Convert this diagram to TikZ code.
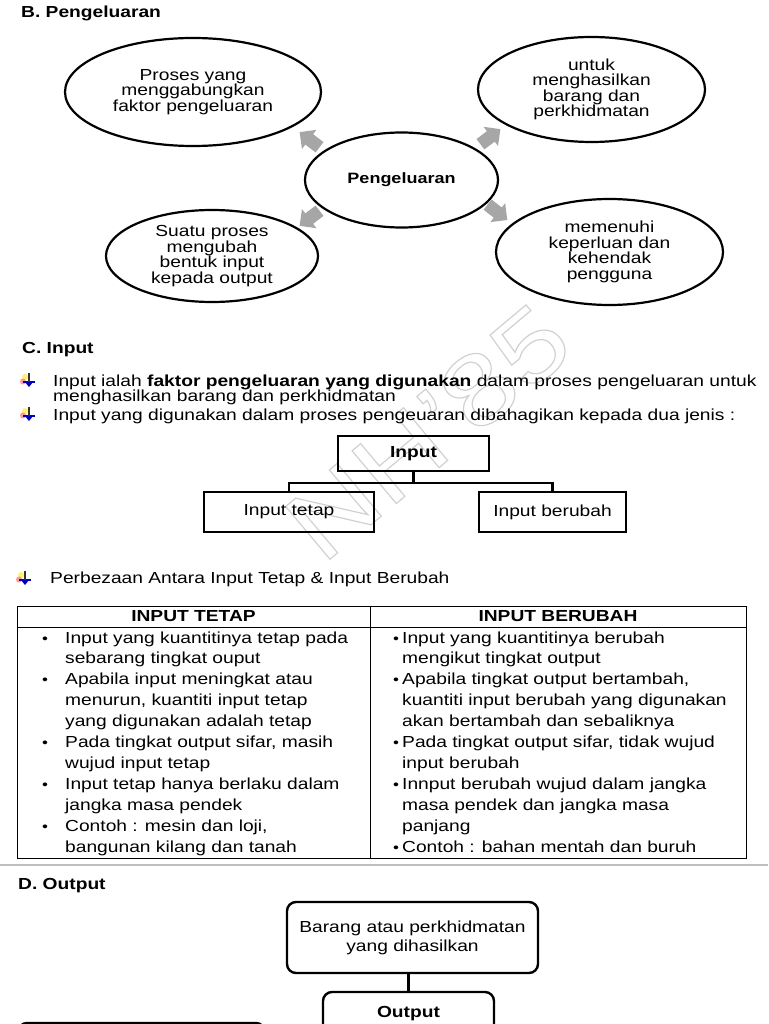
\documentclass[tikz,border=0pt]{standalone}
\usepackage{fontspec}
\setmainfont{Liberation Sans}[FakeStretch=1.2]
\usetikzlibrary{shapes.geometric}
\definecolor{arrowgray}{HTML}{A6A6A6}
\newcommand\blockarr[3]{\fill[arrowgray, shift={(#1,#2)}, rotate=#3] (-12,-6.5) -- (1,-6.5) -- (1,-12) -- (13,0) -- (1,12) -- (1,6.5) -- (-12,6.5) -- cycle;}
\newcommand\wingicon[2]{%
  \begin{scope}[shift={(#1,#2)}]
    \fill[yellow!90!orange, opacity=0.55] (-3,-3) circle (3);
    \fill[red!80, opacity=0.5] (-5,1.5) circle (3);
    \fill[blue!75!black] (-5,0.5) rectangle (7,3);
    \draw[black!80, line width=1.4pt] (1,-7) -- (1,4);
    \fill[blue!75!black] (-3,2) -- (5,2) -- (1,7) -- cycle;
  \end{scope}}
\begin{document}
\begin{tikzpicture}[x=1pt,y=-1pt,
  every node/.style={inner sep=0pt},
  txt/.style={anchor=base west, font=\fontsize{16}{19}\selectfont},
  hd/.style={anchor=base west, font=\fontsize{16}{19}\selectfont\bfseries},
  ell/.style={ellipse, draw, line width=2.2pt, align=center, font=\fontsize{16}{15.5}\selectfont},
  tbox/.style={draw, line width=2.4pt, font=\fontsize{16}{19}\selectfont},
  rbox/.style={draw, line width=2.4pt, rounded corners=9pt, align=center, font=\fontsize{16}{19}\selectfont},
  cell/.style={draw, line width=1pt, font=\fontsize{16}{19}\selectfont\bfseries},
  bul/.style={anchor=base, font=\fontsize{14}{19}\selectfont},
  link/.style={line width=2.4pt},
]
\useasboundingbox (0,0) rectangle (768,1024);
\clip (0,0) rectangle (768,1024);
\fill[white] (0,0) rectangle (768,1024);

% watermark (faint outline)
\node[font=\fontsize{100}{100}\selectfont, text=black!18, rotate=40] (wm) at (428,432) {\special{pdf:literal direct 1 Tr 1.2 w}NH'85\special{pdf:literal direct 0 Tr}};

% ---- B. Pengeluaran
\node[hd] (hB) at (21,18) {B. Pengeluaran};
\node[ell, minimum width=256pt, minimum height=108pt] (e1) at (193,92) {Proses yang\\menggabungkan\\faktor pengeluaran};
\node[ell, minimum width=193pt, minimum height=95pt, font=\fontsize{15}{18}\selectfont\bfseries] (e0) at (401.5,180) {Pengeluaran};
\node[ell, minimum width=227pt, minimum height=105pt] (e2) at (591.5,89.5) {untuk\\menghasilkan\\barang dan\\perkhidmatan};
\node[ell, minimum width=227pt, minimum height=106pt] (e3) at (609.5,252) {memenuhi\\keperluan dan\\kehendak\\pengguna};
\node[ell, minimum width=212pt, minimum height=92pt] (e4) at (212,256) {Suatu proses\\mengubah\\bentuk input\\kepada output};
\blockarr{310}{140}{143}
\blockarr{310}{218}{217}
\blockarr{490}{137}{37}
\blockarr{497}{212}{-38}

% ---- C. Input
\node[hd] (hC) at (22,353) {C. Input};
\wingicon{28}{380}
\wingicon{28}{414}
\wingicon{24}{578}
\node[txt] (p1) at (53,386) {Input ialah \textbf{faktor pengeluaran yang digunakan} dalam proses pengeluaran untuk};
\node[txt] (p2) at (53,401.5) {menghasilkan barang dan perkhidmatan};
\node[txt] (p3) at (53,420) {Input yang digunakan dalam proses pengeuaran dibahagikan kepada dua jenis :};

\node[tbox, minimum width=151pt, minimum height=35pt, font=\fontsize{16}{19}\selectfont\bfseries] (inp) at (413.5,453.5) {Input};
\node[tbox, minimum width=170pt, minimum height=40pt] (tetap) at (289,512) {Input tetap};
\node[tbox, minimum width=147pt, minimum height=40pt] (berubah) at (552.5,512) {Input berubah};
\draw[link] (inp.south) -- ([yshift=-11pt]inp.south);
\draw[link] (tetap.north) |- ([yshift=-11pt]inp.south) -| (berubah.north);

\node[txt] (p4) at (50,583) {Perbezaan Antara Input Tetap \& Input Berubah};

% table
\node[cell, minimum width=353pt, minimum height=21pt] (h1) at (193.5,616.5) {INPUT TETAP};
\node[cell, minimum width=376pt, minimum height=21pt] (h2) at (558,616.5) {INPUT BERUBAH};
\node[cell, minimum width=353pt, minimum height=231pt] (c1) at (193.5,742.5) {};
\node[cell, minimum width=376pt, minimum height=231pt] (c2) at (558,742.5) {};

\node[bul] (ba1) at (45,643) {\textbullet};
\node[bul] (ba2) at (45,684.8) {\textbullet};
\node[bul] (ba3) at (45,747.5) {\textbullet};
\node[bul] (ba4) at (45,789.3) {\textbullet};
\node[bul] (ba5) at (45,831.1) {\textbullet};
\node[txt] (a1) at (65,643) {Input yang kuantitinya tetap pada};
\node[txt] (a2) at (65,663.9) {sebarang tingkat ouput};
\node[txt] (a3) at (65,684.8) {Apabila input meningkat atau};
\node[txt] (a4) at (65,705.7) {menurun, kuantiti input tetap};
\node[txt] (a5) at (65,726.6) {yang digunakan adalah tetap};
\node[txt] (a6) at (65,747.5) {Pada tingkat output sifar, masih};
\node[txt] (a7) at (65,768.4) {wujud input tetap};
\node[txt] (a8) at (65,789.3) {Input tetap hanya berlaku dalam};
\node[txt] (a9) at (65,810.2) {jangka masa pendek};
\node[txt] (a10) at (65,831.1) {Contoh : mesin dan loji,};
\node[txt] (a11) at (65,852) {bangunan kilang dan tanah};

\node[bul] (bb1) at (396,643) {\textbullet};
\node[bul] (bb2) at (396,684.8) {\textbullet};
\node[bul] (bb3) at (396,747.5) {\textbullet};
\node[bul] (bb4) at (396,789.3) {\textbullet};
\node[bul] (bb5) at (396,852) {\textbullet};
\node[txt] (b1) at (402,643) {Input yang kuantitinya berubah};
\node[txt] (b2) at (402,663.9) {mengikut tingkat output};
\node[txt] (b3) at (402,684.8) {Apabila tingkat output bertambah,};
\node[txt] (b4) at (402,705.7) {kuantiti input berubah yang digunakan};
\node[txt] (b5) at (402,726.6) {akan bertambah dan sebaliknya};
\node[txt] (b6) at (402,747.5) {Pada tingkat output sifar, tidak wujud};
\node[txt] (b7) at (402,768.4) {input berubah};
\node[txt] (b8) at (402,789.3) {Innput berubah wujud dalam jangka};
\node[txt] (b9) at (402,810.2) {masa pendek dan jangka masa};
\node[txt] (b10) at (402,831.1) {panjang};
\node[txt] (b11) at (402,852) {Contoh : bahan mentah dan buruh};

\draw[black!25, line width=1.2pt] (0,865) -- (768,865);

% ---- D. Output
\node[hd] (hD) at (18,889) {D. Output};
\node[rbox, minimum width=251pt, minimum height=71pt] (barang) at (412.5,937.5) {Barang atau perkhidmatan\\yang dihasilkan};
\node[rbox, minimum width=171pt, minimum height=44pt, font=\fontsize{16}{19}\selectfont\bfseries] (out) at (408.5,1014) {Output};
\draw[link] (out.north) -- (out.north |- barang.south);
\node[rbox, minimum width=247pt, minimum height=50pt] (cut) at (141.5,1048) {};
\end{tikzpicture}
\end{document}
